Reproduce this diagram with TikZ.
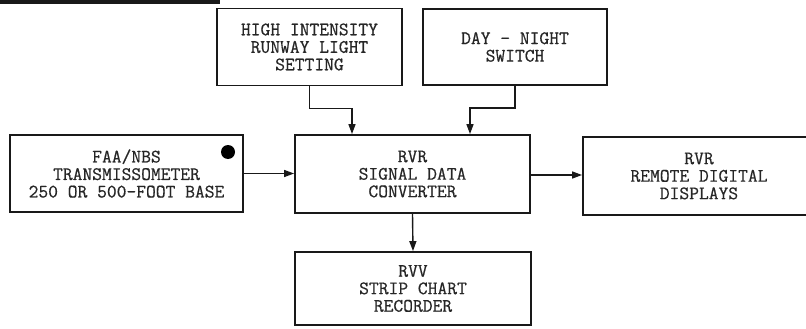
\documentclass[tikz,border=0pt]{standalone}
\usepackage{fontspec}
\newfontfamily\scanfont{Latin Modern Mono}[FakeBold=0.6]
\usetikzlibrary{arrows.meta}

\begin{document}
\begin{tikzpicture}[x=1pt,y=-1pt,>={Triangle[length=10pt,width=7pt]},
  blk/.style={draw=black!90,line width=1.8pt,align=center,inner sep=0pt,text=black!85,font=\scanfont\bfseries\fontsize{19}{17.5}\selectfont},
  flow/.style={->,line width=1.4pt,black!90}]
\useasboundingbox (0,0) rectangle (806,329);
\clip (0,0) rectangle (806,329);
\fill[white] (0,0) rectangle (806,329);
\fill[black!90] (0,0) rectangle (220,4);
% input boxes
\node[blk,minimum width=185pt,minimum height=77pt] (hirl) at (309.5,47) {HIGH INTENSITY\\RUNWAY LIGHT\\SETTING};
\node[blk,minimum width=184pt,minimum height=76pt] (dnsw) at (515,47) {DAY - NIGHT\\SWITCH};
\node[blk,minimum width=233pt,minimum height=77pt] (faa) at (126.5,173.5) {FAA/NBS\\TRANSMISSOMETER\\250 OR 500-FOOT BASE};
\node[circle,fill=black,inner sep=0pt,minimum size=14pt] (lamp) at (228,152) {};
% converter and outputs
\node[blk,minimum width=235pt,minimum height=78pt] (sdc) at (412.5,174) {RVR\\SIGNAL DATA\\CONVERTER};
\node[blk,minimum width=232pt,minimum height=78pt] (disp) at (699,176) {RVR\\REMOTE DIGITAL\\DISPLAYS};
\node[blk,minimum width=236pt,minimum height=73pt] (rec) at (413,288.5) {RVV\\STRIP CHART\\RECORDER};
% connectors
\draw[flow] (hirl.south) -- ++(0,22) -| ([xshift=-60.5pt]sdc.north);
\draw[flow] (dnsw.south) -- ++(0,22) -| ([xshift=57.5pt]sdc.north);
\draw[flow] (faa.east) -- (faa.east -| sdc.west);
\draw[flow] ([yshift=-1pt]sdc.east) -- ([yshift=-1pt]sdc.east -| disp.west);
\draw[flow] (sdc.south) -- (rec.north);
\end{tikzpicture}
\end{document}
